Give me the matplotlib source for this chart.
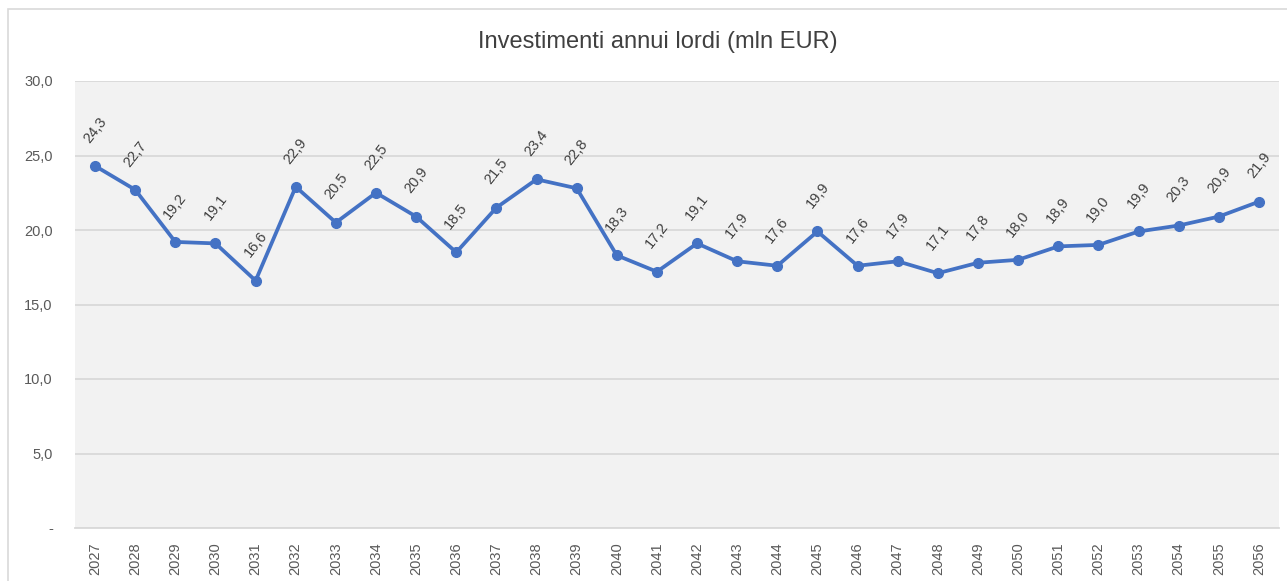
import numpy as np
import matplotlib
matplotlib.use("Agg")
import matplotlib.pyplot as plt
from matplotlib.patches import Rectangle

plt.rcParams['font.family'] = ['Liberation Sans', 'DejaVu Sans']

years = [str(y) for y in range(2027, 2057)]
values = [24.3, 22.7, 19.2, 19.1, 16.6, 22.9, 20.5, 22.5, 20.9, 18.5,
          21.5, 23.4, 22.8, 18.3, 17.2, 19.1, 17.9, 17.6, 19.9, 17.6,
          17.9, 17.1, 17.8, 18.0, 18.9, 19.0, 19.9, 20.3, 20.9, 21.9]
yticks = [0, 5, 10, 15, 20, 25, 30]
ytick_labels = ['-', '5,0', '10,0', '15,0', '20,0', '25,0', '30,0']

fig = plt.figure(figsize=(12.87, 5.81), dpi=100)

# outer chart border
fig.patches.append(Rectangle((8 / 1287, -0.1), 1.2, 1 - 9 / 581 + 0.1,
                             transform=fig.transFigure, fill=False,
                             edgecolor='#d9d9d9', linewidth=1.2))

ax = fig.add_axes([75 / 1287, 53 / 581, 1204 / 1287, 447 / 581])
ax.set_facecolor('#f2f2f2')

x = np.arange(len(years))
ax.plot(x, values, '-o', color='#4472c4', linewidth=2.7,
        markersize=7, zorder=3)

for xi, v in zip(x, values):
    ax.annotate('{:.1f}'.format(v).replace('.', ','), (xi, v),
                xytext=(0, 26), textcoords='offset points',
                ha='center', va='center', rotation=52,
                fontsize=10.5, color='#404040')

ax.set_xlim(-0.5, len(years) - 0.5)
ax.set_ylim(0, 30)
ax.set_yticks(yticks)
ax.set_yticklabels(ytick_labels)
ax.set_xticks(x)
ax.set_xticklabels(years, rotation=90)
ax.tick_params(axis='both', length=0, labelsize=10.5, colors='#595959')
ax.tick_params(axis='y', pad=16)
ax.tick_params(axis='x', pad=10)

ax.grid(True, axis='y', color='#d9d9d9', linewidth=1.3)
ax.set_axisbelow(True)
for side in ['left', 'right', 'top']:
    ax.spines[side].set_visible(False)
ax.spines['bottom'].set_color('#d9d9d9')
ax.spines['bottom'].set_linewidth(1.3)

fig.text(658 / 1287, 1 - 42 / 581, 'Investimenti annui lordi (mln EUR)',
         ha='center', va='center', fontsize=17, color='#404040')

fig.savefig('out.png', dpi=100)
